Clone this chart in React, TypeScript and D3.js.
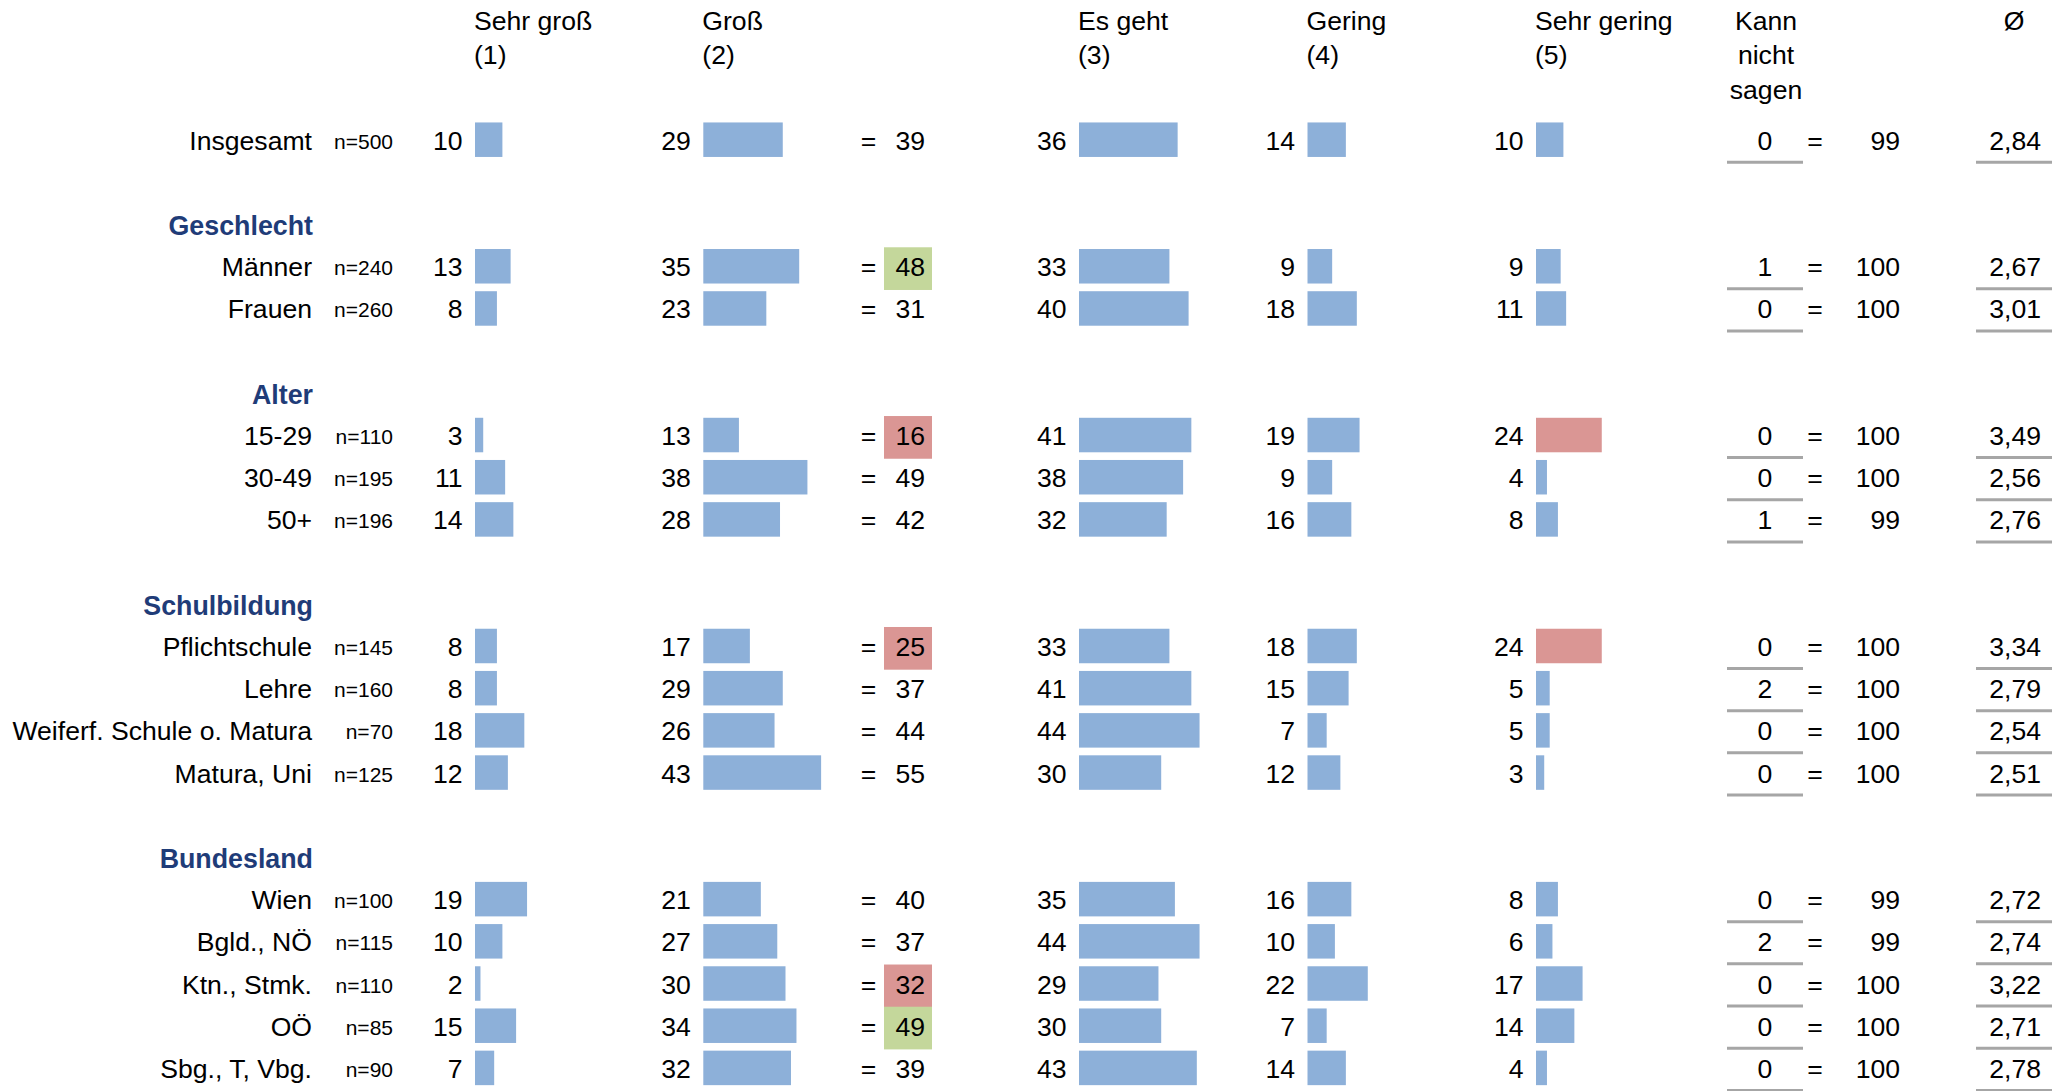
import React from 'react';
import * as d3 from 'd3';

// ---- data ----
const rowLabels = ['Insgesamt', 'Männer', 'Frauen', '15-29', '30-49', '50+', 'Pflichtschule', 'Lehre', 'Weiferf. Schule o. Matura', 'Matura, Uni', 'Wien', 'Bgld., NÖ', 'Ktn., Stmk.', 'OÖ', 'Sbg., T, Vbg.'];
const rowN = ['n=500', 'n=240', 'n=260', 'n=110', 'n=195', 'n=196', 'n=145', 'n=160', 'n=70', 'n=125', 'n=100', 'n=115', 'n=110', 'n=85', 'n=90'];
const rowSlots = [0, 3, 4, 7, 8, 9, 12, 13, 14, 15, 18, 19, 20, 21, 22];
const groupTitles = ['Geschlecht', 'Alter', 'Schulbildung', 'Bundesland'];
const groupSlots = [2, 6, 11, 17];

const sehrGross = [10, 13, 8, 3, 11, 14, 8, 8, 18, 12, 19, 10, 2, 15, 7];
const gross = [29, 35, 23, 13, 38, 28, 17, 29, 26, 43, 21, 27, 30, 34, 32];
const sumTop2 = [39, 48, 31, 16, 49, 42, 25, 37, 44, 55, 40, 37, 32, 49, 39];
const esGeht = [36, 33, 40, 41, 38, 32, 33, 41, 44, 30, 35, 44, 29, 30, 43];
const gering = [14, 9, 18, 19, 9, 16, 18, 15, 7, 12, 16, 10, 22, 7, 14];
const sehrGering = [10, 9, 11, 24, 4, 8, 24, 5, 5, 3, 8, 6, 17, 14, 4];
const kannNicht = [0, 1, 0, 0, 0, 1, 0, 2, 0, 0, 0, 2, 0, 0, 0];
const total = [99, 100, 100, 100, 100, 99, 100, 100, 100, 100, 99, 99, 100, 100, 100];
const mean = ['2,84', '2,67', '3,01', '3,49', '2,56', '2,76', '3,34', '2,79', '2,54', '2,51', '2,72', '2,74', '3,22', '2,71', '2,78'];
const sumFlag = ['', 'pos', '', 'neg', '', '', 'neg', '', '', '', '', '', 'neg', 'pos', ''];
const sehrGeringFlag = ['', '', '', 'neg', '', '', 'neg', '', '', '', '', '', '', '', ''];

const columnHeaders = [['Sehr groß', '(1)'], ['Groß', '(2)'], ['Es geht', '(3)'], ['Gering', '(4)'], ['Sehr gering', '(5)']];
const kannHeader = ['Kann', 'nicht', 'sagen'];
const meanHeader = 'Ø';

// ---- layout ----
const W = 2069;
const H = 1091;
const FONT = '"Liberation Sans", Arial, sans-serif';
const BAR = '#8DB0D9';
const RED = '#DA9694';
const GREEN = '#C4D79B';
const NAVY = '#1F3C78';
const GRAY = '#A6A6A6';
const FS = 26.6;

const barCols = [sehrGross, gross, esGeht, gering, sehrGering];
const barStarts = [475, 703.3, 1079, 1307.5, 1536];

export default function App() {
  const y = d3.scaleLinear().domain([0, 22]).range([139.7, 1067.9]);
  const w = d3.scaleLinear().domain([0, 100]).range([0, 274]);
  const barH = 34.5;
  const base = 10; // baseline offset from row centre

  return (
    <svg width={W} height={H} style={{ position: 'absolute', left: 0, top: 0, background: '#fff' }} fontFamily={FONT}>
      <rect x={0} y={0} width={W} height={H} fill="#fff" />
      {/* column headers */}
      {columnHeaders.map((lines, ci) => (
        <g key={'h' + ci}>
          {lines.map((t, li) => (
            <text key={li} x={barStarts[ci] - 1} y={29.5 + li * 34.5} fontSize={FS} fill="#000">{t}</text>
          ))}
        </g>
      ))}
      {kannHeader.map((t, li) => (
        <text key={'k' + li} x={1766} y={29.5 + li * 34.5} fontSize={FS} textAnchor="middle" fill="#000">{t}</text>
      ))}
      <text x={2014} y={29.5} fontSize={FS} textAnchor="middle" fill="#000">{meanHeader}</text>

      {/* group titles */}
      {groupTitles.map((t, gi) => (
        <text key={'g' + gi} x={313} y={y(groupSlots[gi]) + base + 1} fontSize={26.8} fontWeight="bold" textAnchor="end" fill={NAVY}>{t}</text>
      ))}

      {/* rows */}
      {rowLabels.map((label, ri) => {
        const c = y(rowSlots[ri]);
        const ty = c + base;
        return (
          <g key={'r' + ri}>
            <text x={312} y={ty} fontSize={FS} textAnchor="end">{label}</text>
            <text x={393} y={ty - 1} fontSize={21} textAnchor="end">{rowN[ri]}</text>
            {barCols.map((vals, ci) => {
              const isRed = ci === 4 && sehrGeringFlag[ri] === 'neg';
              return (
                <g key={ci}>
                  <text x={barStarts[ci] - 12.5} y={ty} fontSize={FS} textAnchor="end">{vals[ri]}</text>
                  <rect x={barStarts[ci]} y={c - barH / 2} width={w(vals[ri])} height={barH} fill={isRed ? RED : BAR} />
                </g>
              );
            })}
            {sumFlag[ri] !== '' && (
              <rect x={884} y={c - 19} width={48} height={42.7} fill={sumFlag[ri] === 'pos' ? GREEN : RED} />
            )}
            <text x={868.5} y={ty} fontSize={FS} textAnchor="middle">=</text>
            <text x={925} y={ty} fontSize={FS} textAnchor="end">{sumTop2[ri]}</text>
            <text x={1765} y={ty} fontSize={FS} textAnchor="middle">{kannNicht[ri]}</text>
            <text x={1815} y={ty} fontSize={FS} textAnchor="middle">=</text>
            <text x={1900} y={ty} fontSize={FS} textAnchor="end">{total[ri]}</text>
            <text x={2041} y={ty} fontSize={FS} textAnchor="end">{mean[ri]}</text>
            <line x1={1727} x2={1803} y1={c + 22.5} y2={c + 22.5} stroke={GRAY} strokeWidth={3} />
            <line x1={1976} x2={2052} y1={c + 22.5} y2={c + 22.5} stroke={GRAY} strokeWidth={3} />
          </g>
        );
      })}
    </svg>
  );
}
